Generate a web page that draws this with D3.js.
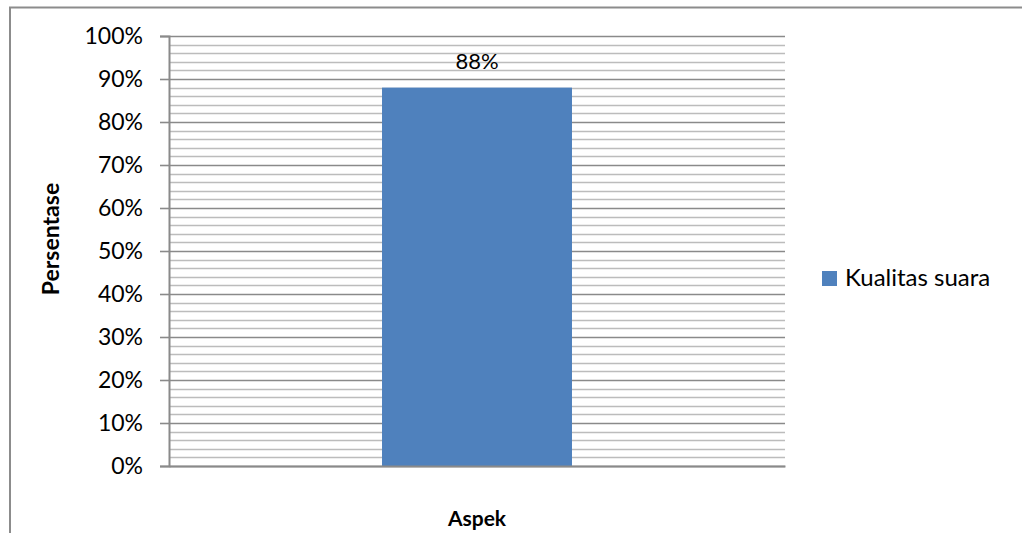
<!DOCTYPE html>
<html>
<head>
<meta charset="utf-8">
<script src="https://cdn.jsdelivr.net/npm/d3@7"></script>
<style>
  html, body { margin: 0; padding: 0; background: #fff; }
  svg { display: block; }
  text { font-family: Lato, "Open Sans", sans-serif; fill: #000; }
</style>
</head>
<body>
<svg id="chart" width="1022" height="533"></svg>
<script>
// Chart data
const categories = ["Kualitas suara"];
const values = [0.88];
const seriesName = "Kualitas suara";
const majorTicks = [0, 0.1, 0.2, 0.3, 0.4, 0.5, 0.6, 0.7, 0.8, 0.9, 1.0];
const minorTicks = d3.range(0, 1.0001, 0.02);
const xTitle = "Aspek";
const yTitle = "Persentase";

const svg = d3.select("#chart");
const W = 1022, H = 533;
const plot = { left: 169, right: 785, top: 36, bottom: 466 };

// Outer chart frame (right and bottom edges fall outside the view)
svg.append("path")
  .attr("d", `M10,${H + 2} L10,7.5 L${W + 2},7.5`)
  .attr("fill", "none")
  .attr("stroke", "#8c8c8c")
  .attr("stroke-width", 2);

const x = d3.scaleBand()
  .domain(categories)
  .range([plot.left, plot.right])
  .paddingInner(0.5286)
  .paddingOuter(0.5286);

const y = d3.scaleLinear()
  .domain([0, 1])
  .range([plot.bottom, plot.top]);

// Minor gridlines
svg.append("g")
  .selectAll("line")
  .data(minorTicks.filter(t => Math.round(t * 50) % 5 !== 0))
  .join("line")
  .attr("x1", plot.left).attr("x2", plot.right)
  .attr("y1", d => Math.round(y(d)) + 0.5).attr("y2", d => Math.round(y(d)) + 0.5)
  .attr("stroke", "#bcbcbc")
  .attr("stroke-width", 1.6);

// Major gridlines
svg.append("g")
  .selectAll("line")
  .data(majorTicks)
  .join("line")
  .attr("x1", plot.left).attr("x2", plot.right)
  .attr("y1", d => Math.round(y(d)) + 0.5).attr("y2", d => Math.round(y(d)) + 0.5)
  .attr("stroke", "#8a8a8a")
  .attr("stroke-width", 1.6);

// Bars
svg.append("g")
  .selectAll("rect")
  .data(values)
  .join("rect")
  .attr("x", (d, i) => x(categories[i]))
  .attr("y", d => y(d))
  .attr("width", x.bandwidth())
  .attr("height", d => y(0) - y(d))
  .attr("fill", "#4f81bd");

// Value labels
svg.append("g")
  .selectAll("text")
  .data(values)
  .join("text")
  .attr("x", (d, i) => x(categories[i]) + x.bandwidth() / 2)
  .attr("y", d => y(d) - 19)
  .attr("text-anchor", "middle")
  .attr("font-size", 22)
  .text(d => d3.format(".0%")(d));

// Y axis
const yAxis = d3.axisLeft(y)
  .tickValues(majorTicks)
  .tickFormat(d3.format(".0%"))
  .tickSize(9)
  .tickPadding(17);

const gy = svg.append("g")
  .attr("transform", `translate(${plot.left},0)`)
  .call(yAxis);
gy.select(".domain").attr("stroke", "#8a8a8a").attr("stroke-width", 2);
gy.selectAll(".tick line").attr("stroke", "#8a8a8a").attr("stroke-width", 1.6);
gy.selectAll(".tick text")
  .attr("font-size", 23)
  .attr("font-family", "Lato, 'Open Sans', sans-serif")
  .attr("fill", "#000");

// X axis baseline
const xAxis = d3.axisBottom(x).tickSize(0).tickFormat("");
const gx = svg.append("g")
  .attr("transform", `translate(0,${plot.bottom})`)
  .call(xAxis);
gx.select(".domain").attr("stroke", "#8a8a8a").attr("stroke-width", 2);

// Axis titles
svg.append("text")
  .attr("transform", `translate(59,239) rotate(-90)`)
  .attr("text-anchor", "middle")
  .attr("font-size", 23)
  .attr("font-weight", "bold")
  .text(yTitle);

svg.append("text")
  .attr("x", (plot.left + plot.right) / 2)
  .attr("y", 526)
  .attr("text-anchor", "middle")
  .attr("font-size", 21)
  .attr("font-weight", "bold")
  .text(xTitle);

// Legend
const legend = svg.append("g").attr("transform", "translate(822,271)");
legend.append("rect")
  .attr("width", 15).attr("height", 15)
  .attr("fill", "#4f81bd");
legend.append("text")
  .attr("x", 23).attr("y", 15)
  .attr("font-size", 24)
  .text(seriesName);
</script>
</body>
</html>
